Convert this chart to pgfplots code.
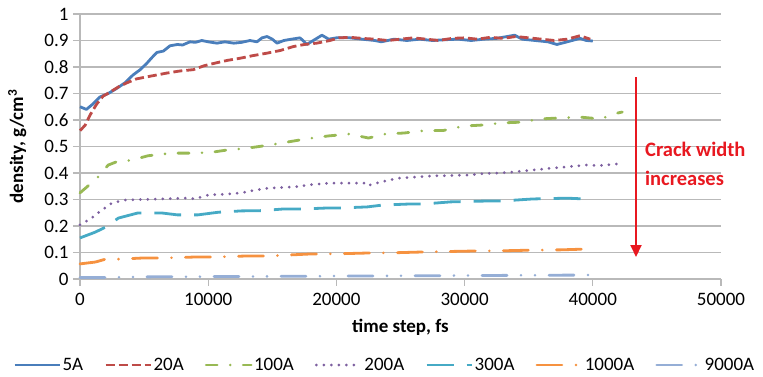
\documentclass[border=0pt]{standalone}
\usepackage{pgfplots}
\pgfplotsset{compat=1.18}
\usepackage{fontspec}
\setmainfont{Carlito}
\usetikzlibrary{arrows.meta}
\definecolor{cA}{HTML}{4A7EBB}
\definecolor{cB}{HTML}{BE4B48}
\definecolor{cC}{HTML}{98B954}
\definecolor{cD}{HTML}{7D60A0}
\definecolor{cE}{HTML}{46AAC5}
\definecolor{cF}{HTML}{F69240}
\definecolor{cG}{HTML}{95AED6}
\definecolor{gridc}{RGB}{185,185,185}
\definecolor{arrowred}{RGB}{232,24,32}
\begin{document}
\begin{tikzpicture}
\begin{axis}[
  scale only axis, width=641pt, height=265pt,
  xmin=0, xmax=50000, ymin=0, ymax=1,
  axis x line*=bottom, axis y line*=left,
  axis line style={-, draw=gridc, line width=1.3pt},
  xtick={0,10000,20000,30000,40000,50000},
  ytick={0,0.1,0.2,0.3,0.4,0.5,0.6,0.7,0.8,0.9,1},
  yticklabels={0,0.1,0.2,0.3,0.4,0.5,0.6,0.7,0.8,0.9,1},
  xticklabels={0,10000,20000,30000,40000,50000},
  scaled x ticks=false, scaled y ticks=false,
  tick align=outside, major tick length=7pt,
  tick style={draw=gridc, line width=1.3pt},
  ymajorgrids, major grid style={draw=gridc, line width=1.3pt},
  tick label style={font=\fontsize{19}{22}\selectfont},
  xticklabel style={yshift=-4pt},
  yticklabel style={xshift=-1pt},
  xlabel={\textbf{time step, fs}},
  ylabel={\textbf{density, g/cm\textsuperscript{3}}},
  label style={font=\fontsize{19}{22}\selectfont},
  xlabel style={at={(axis description cs:0.5,0)}, anchor=center, yshift=-48pt},
  ylabel style={at={(axis description cs:-0.098,0.5)}, anchor=center},
  clip=false,
  legend columns=7,
  legend style={at={(axis description cs:0.475,0)}, anchor=center, yshift=-86pt, draw=none,
    font=\fontsize{19}{22}\selectfont, nodes={inner sep=1.5pt},
    /tikz/every even column/.append style={column sep=19.5pt},
    inner sep=0pt},
  legend image code/.code={\draw[#1] (0pt,0pt) -- (45pt,0pt);},
]
\addplot[cA, line width=2.8pt, line join=round] coordinates {
(0,0.650) (500,0.640) (1000,0.660) (1560,0.687) (2200,0.700) (2890,0.720) (3500,0.740) (4140,0.770) (4700,0.790) (5230,0.815) (5600,0.835) (6000,0.855) (6500,0.860) (7020,0.880) (7600,0.885) (8000,0.883) (8580,0.895) (9000,0.893) (9500,0.900) (10000,0.895) (10680,0.890) (11300,0.895) (12000,0.890) (12600,0.893) (13260,0.900) (13800,0.895) (14200,0.910) (14590,0.915) (15000,0.905) (15370,0.890) (15900,0.900) (16500,0.905) (17160,0.910) (17500,0.895) (17680,0.885) (18200,0.900) (18870,0.920) (19400,0.905) (20000,0.910) (21060,0.910) (22000,0.905) (23000,0.900) (23500,0.895) (24500,0.905) (25500,0.900) (26500,0.905) (27500,0.900) (28500,0.903) (29500,0.905) (30500,0.900) (31500,0.905) (32500,0.908) (33900,0.920) (34500,0.905) (35500,0.900) (36500,0.895) (37200,0.885) (38000,0.895) (39000,0.908) (39500,0.900) (40000,0.898)
};
\addlegendentry{5A}
\addplot[cB, line width=2.8pt, dash pattern=on 9pt off 4pt] coordinates {
(0,0.560) (400,0.580) (800,0.620) (1300,0.660) (1800,0.690) (2340,0.705) (3000,0.725) (3640,0.740) (4400,0.755) (5230,0.763) (6000,0.770) (6760,0.777) (7800,0.785) (8840,0.790) (9700,0.805) (10660,0.816) (11500,0.825) (12480,0.833) (13500,0.843) (14560,0.852) (15600,0.862) (16640,0.877) (17500,0.885) (18460,0.890) (19500,0.900) (20200,0.910) (21060,0.912) (22000,0.908) (23000,0.905) (24000,0.900) (25000,0.905) (26000,0.910) (27000,0.905) (28000,0.900) (29000,0.908) (30000,0.910) (31000,0.905) (32000,0.912) (33000,0.908) (34000,0.915) (35000,0.910) (36000,0.905) (37000,0.900) (38000,0.905) (39000,0.918) (39800,0.905)
};
\addlegendentry{20A}
\addplot[cC, line width=2.8pt, line cap=round, dash pattern=on 11pt off 13pt on 0pt off 13pt] coordinates {
(0,0.325) (600,0.350) (1400,0.385) (2200,0.430) (3000,0.445) (4000,0.448) (5300,0.465) (6200,0.470) (7200,0.475) (8700,0.475) (10100,0.477) (11500,0.487) (13100,0.494) (14700,0.505) (16200,0.517) (17800,0.530) (19400,0.540) (21000,0.547) (22500,0.532) (23800,0.547) (25300,0.551) (26900,0.560) (28300,0.560) (29900,0.577) (31400,0.581) (32900,0.589) (34500,0.592) (35900,0.604) (37500,0.608) (39000,0.611) (40600,0.604) (41900,0.626) (42300,0.630)
};
\addlegendentry{100A}
\addplot[cD, line width=3pt, line cap=round, dash pattern=on 0pt off 7.5pt] coordinates {
(0,0.204) (900,0.230) (1700,0.260) (2500,0.287) (3500,0.298) (4800,0.300) (6100,0.302) (8200,0.305) (9000,0.303) (10000,0.317) (11300,0.320) (12600,0.325) (13600,0.335) (14700,0.343) (16500,0.347) (17200,0.350) (17800,0.355) (18500,0.358) (19700,0.362) (21000,0.362) (22200,0.362) (22400,0.352) (23000,0.360) (24000,0.372) (25000,0.381) (26200,0.385) (27500,0.389) (28800,0.390) (30200,0.392) (31500,0.398) (32800,0.400) (34000,0.405) (35300,0.411) (36700,0.418) (38000,0.423) (39500,0.430) (40500,0.428) (41900,0.434)
};
\addlegendentry{200A}
\addplot[cE, line width=2.8pt, dash pattern=on 27pt off 13pt] coordinates {
(0,0.155) (1200,0.177) (2000,0.196) (3000,0.230) (4500,0.249) (6400,0.249) (7600,0.242) (9200,0.242) (10800,0.252) (12600,0.257) (14200,0.258) (15800,0.264) (17300,0.264) (19300,0.268) (20300,0.268) (22400,0.272) (23600,0.279) (25700,0.283) (26800,0.283) (28900,0.291) (31500,0.294) (32800,0.294) (35300,0.302) (38000,0.305) (39400,0.302)
};
\addlegendentry{300A}
\addplot[cF, line width=2.8pt, line cap=round, dash pattern=on 25pt off 14pt on 0pt off 14pt] coordinates {
(0,0.057) (1200,0.064) (2000,0.075) (3100,0.075) (4800,0.079) (6400,0.079) (9000,0.083) (10500,0.083) (13100,0.087) (14700,0.087) (17800,0.094) (20000,0.095) (22400,0.098) (24500,0.099) (26800,0.102) (29000,0.104) (31200,0.106) (33500,0.107) (35300,0.109) (37500,0.110) (39500,0.113) (40000,0.112)
};
\addlegendentry{1000A}
\addplot[cG, line width=2.8pt, line cap=round, dash pattern=on 25pt off 14pt on 0pt off 14pt on 0pt off 14pt] coordinates {
(0,0.006) (2000,0.006) (5000,0.008) (10000,0.009) (15000,0.010) (20000,0.011) (25000,0.012) (30000,0.013) (35000,0.014) (40000,0.015)
};
\addlegendentry{9000A}
\draw[arrowred, line width=2pt, -{Triangle[length=12pt, width=11pt]}] (axis cs:43370,0.762) -- (axis cs:43370,0.083);
\node[anchor=west, text=arrowred, font=\fontsize{20.5}{24}\selectfont\bfseries, inner sep=0pt] at (axis cs:44070,0.49) {Crack width};
\node[anchor=west, text=arrowred, font=\fontsize{20.5}{24}\selectfont\bfseries, inner sep=0pt] at (axis cs:44070,0.38) {increases};
\end{axis}
\path (current axis.south west) ++(-80pt,-98pt) rectangle ++(763pt,377pt);
\end{tikzpicture}
\end{document}
